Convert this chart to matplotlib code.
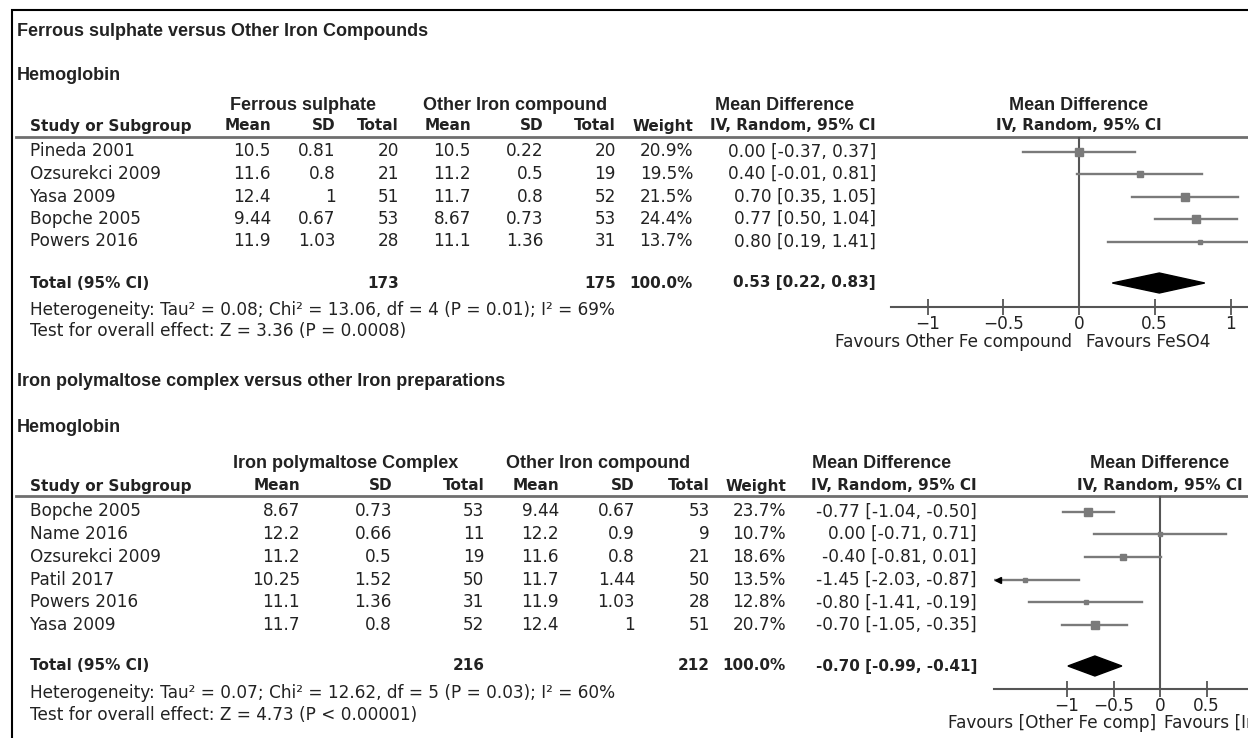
import numpy as np
import matplotlib.pyplot as plt
from matplotlib.patches import Polygon

W, H = 1248, 738

# ---- panel 1: Ferrous sulphate versus other iron compounds ----
studies1 = ['Pineda 2001', 'Ozsurekci 2009', 'Yasa 2009', 'Bopche 2005', 'Powers 2016']
fs_mean = [10.5, 11.6, 12.4, 9.44, 11.9]
fs_sd = [0.81, 0.8, 1, 0.67, 1.03]
fs_n = [20, 21, 51, 53, 28]
oth1_mean = [10.5, 11.2, 11.7, 8.67, 11.1]
oth1_sd = [0.22, 0.5, 0.8, 0.73, 1.36]
oth1_n = [20, 19, 52, 53, 31]
weight1 = [20.9, 19.5, 21.5, 24.4, 13.7]
md1 = [0.00, 0.40, 0.70, 0.77, 0.80]
lo1 = [-0.37, -0.01, 0.35, 0.50, 0.19]
hi1 = [0.37, 0.81, 1.05, 1.04, 1.41]
pooled1 = (0.53, 0.22, 0.83)
het1 = 'Heterogeneity: Tau² = 0.08; Chi² = 13.06, df = 4 (P = 0.01); I² = 69%'
test1 = 'Test for overall effect: Z = 3.36 (P = 0.0008)'
ticks1 = [-1, -0.5, 0, 0.5, 1]

# ---- panel 2: Iron polymaltose complex versus other iron preparations ----
studies2 = ['Bopche 2005', 'Name 2016', 'Ozsurekci 2009', 'Patil 2017', 'Powers 2016', 'Yasa 2009']
ipc_mean = [8.67, 12.2, 11.2, 10.25, 11.1, 11.7]
ipc_sd = [0.73, 0.66, 0.5, 1.52, 1.36, 0.8]
ipc_n = [53, 11, 19, 50, 31, 52]
oth2_mean = [9.44, 12.2, 11.6, 11.7, 11.9, 12.4]
oth2_sd = [0.67, 0.9, 0.8, 1.44, 1.03, 1]
oth2_n = [53, 9, 21, 50, 28, 51]
weight2 = [23.7, 10.7, 18.6, 13.5, 12.8, 20.7]
md2 = [-0.77, 0.00, -0.40, -1.45, -0.80, -0.70]
lo2 = [-1.04, -0.71, -0.81, -2.03, -1.41, -1.05]
hi2 = [-0.50, 0.71, 0.01, -0.87, -0.19, -0.35]
pooled2 = (-0.70, -0.99, -0.41)
het2 = 'Heterogeneity: Tau² = 0.07; Chi² = 12.62, df = 5 (P = 0.03); I² = 60%'
test2 = 'Test for overall effect: Z = 4.73 (P < 0.00001)'
ticks2 = [-1, -0.5, 0, 0.5]

TXT = '#222222'
GREY = '#7a7a7a'
AX = '#555555'
TFS = 12.2        # regular table text
BFS = 11          # bold column headers / totals
HFS = 13          # section titles
HFONT = 'Liberation Sans'
TFONT = 'DejaVu Sans'

fig = plt.figure(figsize=(W / 100, H / 100), dpi=100)
bg = fig.add_axes([0, 0, 1, 1])
bg.set_xlim(0, W)
bg.set_ylim(H, 0)
bg.axis('off')

# outer frame
bg.plot([12, 12, W], [H, 10, 10], color='black', lw=1.5, solid_joinstyle='miter')


def txt(x, y, s, ha='right', bold=False, font=TFONT, size=None):
    if size is None:
        size = BFS if bold else TFS
    bg.text(x, y, s, ha=ha, va='center', fontsize=size, color=TXT, family=font,
            fontweight='bold' if bold else 'normal')


def fmt_ci(m, l, h):
    return f'{m:.2f} [{l:.2f}, {h:.2f}]'


def panel(lay, title, grp1, studies, m1, s1, n1, m2, s2, n2, wts, md, lo, hi,
          pooled, het, test, ticks, fav_l, fav_r):
    cols = lay['cols']
    # titles
    txt(17, lay['title'], title, ha='left', bold=True, font=HFONT, size=HFS)
    txt(17, lay['sub'], 'Hemoglobin', ha='left', bold=True, font=HFONT, size=HFS)
    # group headers
    gy = lay['grp']
    txt(lay['g1'], gy, grp1, ha='center', bold=True, font=HFONT, size=HFS)
    txt(lay['g2'], gy, 'Other Iron compound', ha='center', bold=True, font=HFONT, size=HFS)
    txt(lay['g3'], gy, 'Mean Difference', ha='center', bold=True, font=HFONT, size=HFS)
    # column headers
    hy = lay['hdr']
    txt(30, hy, 'Study or Subgroup', ha='left', bold=True)
    for x, lab in zip(cols, ['Mean', 'SD', 'Total', 'Mean', 'SD', 'Total', 'Weight',
                             'IV, Random, 95% CI']):
        txt(x, hy, lab, bold=True)
    bg.plot([16, W], [lay['line'], lay['line']], color='#6f6f6f', lw=2)

    # study rows
    ys = lay['row0'] + lay['step'] * np.arange(len(studies))
    for i, y in enumerate(ys):
        txt(30, y, studies[i], ha='left')
        vals = [f'{m1[i]:g}', f'{s1[i]:g}', f'{n1[i]}', f'{m2[i]:g}', f'{s2[i]:g}',
                f'{n2[i]}', f'{wts[i]:.1f}%', fmt_ci(md[i], lo[i], hi[i])]
        for x, v in zip(cols, vals):
            txt(x, y, v)

    # totals
    ty = lay['total']
    txt(30, ty, 'Total (95% CI)', ha='left', bold=True)
    txt(cols[2], ty, f'{sum(n1)}', bold=True)
    txt(cols[5], ty, f'{sum(n2)}', bold=True)
    txt(cols[6], ty, f'{sum(wts):.1f}%', bold=True)
    txt(cols[7], ty, fmt_ci(*pooled), bold=True)
    txt(30, lay['het'], het, ha='left')
    txt(30, lay['test'], test, ha='left')

    # forest plot axes (y in figure pixels so rows line up with the table)
    x0, zero, ppu = lay['fx0'], lay['zero'], lay['ppu']
    half = (zero - x0) / ppu
    width = 2 * (zero - x0)
    ytop, ybot = lay['line'], lay['axis']
    ax = fig.add_axes([x0 / W, 1 - ybot / H, width / W, (ybot - ytop) / H])
    ax.set_xlim(-half, half)
    ax.set_ylim(ybot, ytop)
    ax.patch.set_alpha(0)
    for s in ['top', 'left', 'right']:
        ax.spines[s].set_visible(False)
    ax.spines['bottom'].set_color(AX)
    ax.spines['bottom'].set_linewidth(1.5)
    ax.set_yticks([])
    ax.set_xticks(ticks)
    ax.set_xticklabels([f'{t:g}'.replace('-', '\u2212') for t in ticks])
    ax.tick_params(axis='x', direction='inout', length=11, width=1.3, color=AX,
                   labelsize=TFS, labelcolor=TXT, pad=0)
    for lab in ax.get_xticklabels():
        lab.set_family(TFONT)
    ax.axvline(0, color=AX, lw=1.5)

    for i, y in enumerate(ys):
        l = max(lo[i], -half)
        ax.plot([l, hi[i]], [y, y], color=GREY, lw=1.7)
        side = 0.42 * (wts[i] - 3)  # square side in px, grows with weight
        ax.plot(md[i], y, marker='s', ms=side * 0.72, color=GREY, mec=GREY)
        if lo[i] < -half:
            ax.plot(-half + 0.04, y, marker='<', ms=5, color='black', clip_on=False)

    pm, pl, ph = pooled
    dh = 10
    ax.add_patch(Polygon([[pl, ty], [pm, ty - dh], [ph, ty], [pm, ty + dh]],
                         closed=True, color='black'))

    # header above the plot
    ax.text(0, lay['grp'], 'Mean Difference', transform=ax.transData, ha='center',
            va='center', fontsize=HFS, fontweight='bold', family=HFONT, color=TXT,
            clip_on=False)
    ax.text(0, lay['hdr'], 'IV, Random, 95% CI', transform=ax.transData, ha='center',
            va='center', fontsize=BFS, fontweight='bold', family=TFONT, color=TXT,
            clip_on=False)
    ax.text(-0.045, lay['fav'], fav_l, ha='right', va='center', fontsize=TFS,
            family=TFONT, color=TXT, clip_on=False)
    ax.text(0.045, lay['fav'], fav_r, ha='left', va='center', fontsize=TFS,
            family=TFONT, color=TXT, clip_on=False)


lay1 = dict(title=31, sub=75, grp=105, hdr=126, line=137, row0=151.5, step=22.5,
            total=283, het=310, test=331.5, axis=307, fav=342,
            cols=[271, 335.5, 399, 471, 543.7, 616, 693, 876],
            g1=303, g2=515, g3=785, fx0=891, zero=1079, ppu=151.5)
lay2 = dict(title=381.5, sub=427, grp=464, hdr=486, line=496, row0=511.5, step=22.7,
            total=666, het=693, test=715, axis=689, fav=723,
            cols=[300, 392, 484.5, 559, 635, 710, 786, 977],
            g1=345.6, g2=598, g3=882, fx0=994, zero=1160, ppu=93)

panel(lay1, 'Ferrous sulphate versus Other Iron Compounds', 'Ferrous sulphate',
      studies1, fs_mean, fs_sd, fs_n, oth1_mean, oth1_sd, oth1_n, weight1, md1, lo1, hi1,
      pooled1, het1, test1, ticks1, 'Favours Other Fe compound', 'Favours FeSO4')
panel(lay2, 'Iron polymaltose complex versus other Iron preparations',
      'Iron polymaltose Complex',
      studies2, ipc_mean, ipc_sd, ipc_n, oth2_mean, oth2_sd, oth2_n, weight2, md2, lo2, hi2,
      pooled2, het2, test2, ticks2, 'Favours [Other Fe comp]', 'Favours [Iron polymaltose]')

fig.savefig('out.png', dpi=100)
